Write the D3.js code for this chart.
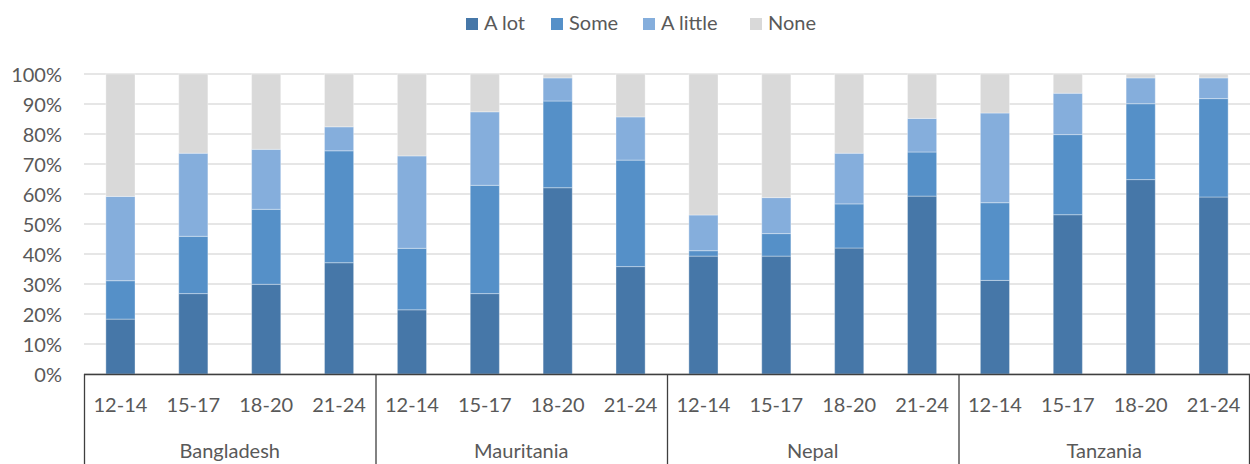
<!DOCTYPE html>
<html>
<head>
<meta charset="utf-8">
<script src="https://cdn.jsdelivr.net/npm/d3@7"></script>
<style>
  html, body { margin: 0; padding: 0; background: #fff; }
  svg { display: block; }
  text { font-family: Lato, "Open Sans", sans-serif; fill: #595959; }
</style>
</head>
<body>
<svg id="chart" width="1250" height="464"></svg>
<script>
// Countries and age groups on the two-level category axis
const countries = ["Bangladesh", "Mauritania", "Nepal", "Tanzania"];
const ageGroups = ["12-14", "15-17", "18-20", "21-24"];
const seriesNames = ["A lot", "Some", "A little", "None"];
const seriesColors = ["#4677a8", "#5590c8", "#85aedc", "#d9d9d9"];
const yTicks = [0, 10, 20, 30, 40, 50, 60, 70, 80, 90, 100];

// Percent of respondents per answer, one entry per country x age group
const aLot    = [18.3, 26.8, 29.9, 37.1,  21.4, 26.8, 62.1, 35.8,  39.3, 39.3, 42.0, 59.3,  31.2, 53.1, 64.8, 59.0];
const some    = [12.8, 19.1, 25.0, 37.3,  20.5, 36.1, 28.9, 35.5,   1.8,  7.5, 14.7, 14.7,  25.9, 26.7, 25.3, 32.8];
const aLittle = [28.1, 27.7, 20.0,  8.0,  30.8, 24.5,  7.7, 14.4,  11.9, 12.0, 16.9, 11.2,  29.9, 13.8,  8.6,  6.9];
const none    = [40.8, 26.4, 25.1, 17.6,  27.3, 12.6,  1.3, 14.3,  47.0, 41.2, 26.4, 14.8,  13.0,  6.4,  1.3,  1.3];

const series = [aLot, some, aLittle, none];
const rows = [];
countries.forEach((c, ci) => {
  ageGroups.forEach((a, ai) => {
    const i = ci * ageGroups.length + ai;
    const row = { key: c + "|" + a, country: c, age: a };
    seriesNames.forEach((s, si) => { row[s] = series[si][i]; });
    rows.push(row);
  });
});

const svg = d3.select("#chart");
const plotLeft = 84, plotRight = 1250, plotTop = 74, plotBottom = 374;

const x = d3.scaleBand()
  .domain(rows.map(d => d.key))
  .range([plotLeft, plotRight])
  .paddingInner(0.6)
  .paddingOuter(0.3);

const y = d3.scaleLinear().domain([0, 100]).range([plotBottom, plotTop]);

// Horizontal gridlines
svg.append("g")
  .selectAll("line")
  .data(yTicks)
  .join("line")
  .attr("x1", plotLeft).attr("x2", plotRight)
  .attr("y1", d => y(d)).attr("y2", d => y(d))
  .attr("stroke", "#dedede")
  .attr("stroke-width", 1.5);

// Y axis labels
const yAxis = d3.axisLeft(y).tickValues(yTicks).tickFormat(d => d + "%").tickSize(0).tickPadding(0);
const yg = svg.append("g").attr("transform", `translate(${plotLeft - 22},0)`).call(yAxis);
yg.select(".domain").remove();
yg.selectAll("text")
  .attr("font-family", "Lato, 'Open Sans', sans-serif")
  .attr("font-size", 20)
  .attr("fill", "#595959")
  .attr("dy", "0.35em");

// Stacked bars
const stack = d3.stack().keys(seriesNames)(rows);
svg.append("g")
  .selectAll("g")
  .data(stack)
  .join("g")
  .attr("fill", (d, i) => seriesColors[i])
  .selectAll("rect")
  .data(d => d)
  .join("rect")
  .attr("x", d => x(d.data.key))
  .attr("width", x.bandwidth())
  .attr("y", d => y(d[1]))
  .attr("height", d => y(d[0]) - y(d[1]))
  .attr("stroke", "rgba(255,255,255,0.35)")
  .attr("stroke-width", 1);

// Category axis: baseline and group dividers
const axisColor = "#3f3f3f";
svg.append("line")
  .attr("x1", plotLeft).attr("x2", plotRight)
  .attr("y1", plotBottom + 0.5).attr("y2", plotBottom + 0.5)
  .attr("stroke", axisColor).attr("stroke-width", 1.3);

const groupEdges = countries.map(c => x(c + "|" + ageGroups[0]) - x.step() * x.paddingOuter());
groupEdges.push(plotRight);
svg.append("g")
  .selectAll("line")
  .data(groupEdges)
  .join("line")
  .attr("x1", d => Math.min(d, plotRight - 1) + 0.5)
  .attr("x2", d => Math.min(d, plotRight - 1) + 0.5)
  .attr("y1", plotBottom).attr("y2", 464)
  .attr("stroke", axisColor).attr("stroke-width", 1.3);

// Age group labels
svg.append("g")
  .selectAll("text")
  .data(rows)
  .join("text")
  .attr("x", d => x(d.key) + x.bandwidth() / 2)
  .attr("y", 412)
  .attr("text-anchor", "middle")
  .attr("font-size", 20)
  .text(d => d.age);

// Country labels
svg.append("g")
  .selectAll("text")
  .data(countries)
  .join("text")
  .attr("x", (c, i) => (groupEdges[i] + groupEdges[i + 1]) / 2)
  .attr("y", 458)
  .attr("text-anchor", "middle")
  .attr("font-size", 20)
  .text(c => c);

// Legend
const legendX = [466, 551, 643, 750];
const legend = svg.append("g")
  .selectAll("g")
  .data(seriesNames)
  .join("g")
  .attr("transform", (d, i) => `translate(${legendX[i]},0)`);
legend.append("rect")
  .attr("x", 0).attr("y", 18)
  .attr("width", 12).attr("height", 12)
  .attr("fill", (d, i) => seriesColors[i]);
legend.append("text")
  .attr("x", 18).attr("y", 30)
  .attr("font-size", 20)
  .text(d => d);
</script>
</body>
</html>
